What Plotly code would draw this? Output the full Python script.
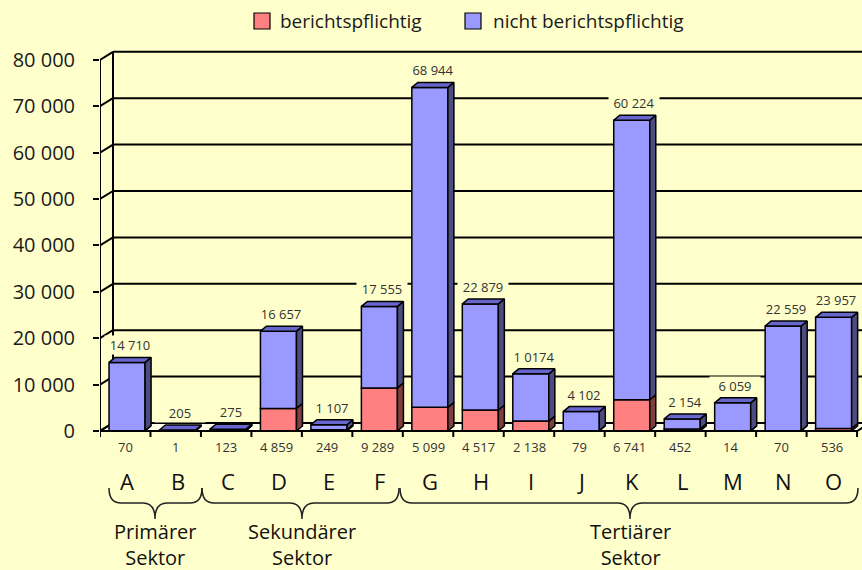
import plotly.graph_objects as go

# ---------------- data ----------------
categories = ["A", "B", "C", "D", "E", "F", "G", "H", "I", "J", "K", "L", "M", "N", "O"]
berichtspflichtig = [70, 1, 123, 4859, 249, 9289, 5099, 4517, 2138, 79, 6741, 452, 14, 70, 536]
nicht_berichtspflichtig = [14710, 205, 275, 16657, 1107, 17555, 68944, 22879, 10174, 4102,
                           60224, 2154, 6059, 22559, 23957]
nicht_labels = ["14 710", "205", "275", "16 657", "1 107", "17 555", "68 944", "22 879", "1 0174",
                "4 102", "60 224", "2 154", "6 059", "22 559", "23 957"]
bericht_labels = ["70", "1", "123", "4 859", "249", "9 289", "5 099", "4 517", "2 138", "79",
                  "6 741", "452", "14", "70", "536"]
y_ticks = [0, 10000, 20000, 30000, 40000, 50000, 60000, 70000, 80000]
y_ticktext = [f"{v:,}".replace(",", " ") for v in y_ticks]
sectors = [("Primärer", "Sektor", 0, 1), ("Sekundärer", "Sektor", 2, 5), ("Tertiärer", "Sektor", 6, 14)]
series_names = ["berichtspflichtig", "nicht berichtspflichtig"]

# ---------------- style ----------------
BG = "#FFFFCC"
FLOOR = "#FFFFE8"
RED, RED_SIDE = "#FF8080", "#803F3F"
BLUE, BLUE_SIDE, BLUE_TOP = "#9999FF", "#4C4C80", "#6666CC"
FONT = "Open Sans"

W, H = 862, 570
L, T, PW, PH = 100, 40, 762, 400
SLOT = 50.47          # px per category
YPX = 46.4 / 10000    # px per value unit
x_range = [-0.5, -0.5 + PW / SLOT]
y_bottom = -(440 - 431) / YPX
y_range = [y_bottom, y_bottom + PH / YPX]

# 3D offsets
wall_dx = 13 / SLOT
wall_dy = 8 / YPX
bar_dx = 6 / SLOT
bar_dy = 5 / YPX
bar_off = -0.321
bar_w = 0.714
tick_len = 6 / YPX


def pxx(p):
    return (p - L) / PW


def pyy(p):
    return (T + PH - p) / PH


idx = list(range(len(categories)))
totals = [a + b for a, b in zip(berichtspflichtig, nicht_berichtspflichtig)]

fig = go.Figure()
fig.add_trace(go.Bar(x=idx, y=berichtspflichtig, base=[0] * len(idx), width=bar_w, offset=bar_off,
                     marker=dict(color=RED, line=dict(color="black", width=1.5)),
                     name=series_names[0], showlegend=False))
fig.add_trace(go.Bar(x=idx, y=nicht_berichtspflichtig, base=berichtspflichtig, width=bar_w, offset=bar_off,
                     marker=dict(color=BLUE, line=dict(color="black", width=1.5)),
                     name=series_names[1], showlegend=False))


def side_poly(xr, y0, y1):
    return [xr, xr + bar_dx, xr + bar_dx, xr, xr, None], [y0, y0 + bar_dy, y1 + bar_dy, y1, y0, None]


# side faces
for seg_bottom, seg_top, col in [([0] * len(idx), berichtspflichtig, RED_SIDE),
                                 (berichtspflichtig, totals, BLUE_SIDE)]:
    xs, ys = [], []
    for i in idx:
        xr = i + bar_off + bar_w
        px_, py_ = side_poly(xr, seg_bottom[i], seg_top[i])
        xs += px_
        ys += py_
    fig.add_trace(go.Scatter(x=xs, y=ys, mode="lines", fill="toself", fillcolor=col,
                             line=dict(color="black", width=1.5), hoverinfo="skip", showlegend=False))

# top faces
xs, ys = [], []
for i in idx:
    xl = i + bar_off
    xr = xl + bar_w
    t = totals[i]
    xs += [xl, xl + bar_dx, xr + bar_dx, xr, xl, None]
    ys += [t, t + bar_dy, t + bar_dy, t, t, None]
fig.add_trace(go.Scatter(x=xs, y=ys, mode="lines", fill="toself", fillcolor=BLUE_TOP,
                         line=dict(color="black", width=1.5), hoverinfo="skip", showlegend=False))

shapes = []
n = len(categories)
x_left = -0.5
x_right_front = n - 0.5
# floor
shapes.append(dict(type="path", xref="x", yref="y", layer="below",
                   path=f"M{x_left},0 L{x_right_front},0 L{x_right_front + wall_dx},{wall_dy} "
                        f"L{x_left + wall_dx},{wall_dy} Z",
                   fillcolor=FLOOR, line=dict(color="black", width=2)))
# gridlines on back wall + diagonals
for v in y_ticks:
    shapes.append(dict(type="line", xref="x", yref="y", layer="below",
                       x0=x_left + wall_dx, x1=x_range[1] + 1, y0=v + wall_dy, y1=v + wall_dy,
                       line=dict(color="black", width=2)))
    shapes.append(dict(type="line", xref="x", yref="y", layer="below",
                       x0=x_left, x1=x_left + wall_dx, y0=v, y1=v + wall_dy,
                       line=dict(color="black", width=2)))
# back wall vertical
shapes.append(dict(type="line", xref="x", yref="y", layer="below",
                   x0=x_left + wall_dx, x1=x_left + wall_dx, y0=wall_dy, y1=y_ticks[-1] + wall_dy,
                   line=dict(color="black", width=2)))
# front y axis
shapes.append(dict(type="line", xref="x", yref="y",
                   x0=x_left, x1=x_left, y0=-tick_len, y1=y_ticks[-1],
                   line=dict(color="black", width=2)))
# x ticks
for k in range(n + 1):
    shapes.append(dict(type="line", xref="x", yref="y",
                       x0=k - 0.5, x1=k - 0.5, y0=0, y1=-tick_len,
                       line=dict(color="black", width=2)))
# front floor edge on top
shapes.append(dict(type="line", xref="x", yref="y",
                   x0=x_left, x1=x_right_front, y0=0, y1=0, line=dict(color="black", width=2)))

# braces
brace_px = {0: (109, 202, 155), 1: (202, 399, 302), 2: (400, 858, 630)}
yt, ym, yb = 488, 503, 519
for k, (x0, x1, xm) in brace_px.items():
    r = 12
    pts = (f"M{pxx(x0)},{pyy(yt)} Q{pxx(x0)},{pyy(ym)} {pxx(x0 + r)},{pyy(ym)} "
           f"L{pxx(xm - r)},{pyy(ym)} Q{pxx(xm)},{pyy(ym)} {pxx(xm)},{pyy(yb)} "
           f"Q{pxx(xm)},{pyy(ym)} {pxx(xm + r)},{pyy(ym)} "
           f"L{pxx(x1 - r)},{pyy(ym)} Q{pxx(x1)},{pyy(ym)} {pxx(x1)},{pyy(yt)}")
    shapes.append(dict(type="path", xref="paper", yref="paper", path=pts,
                       line=dict(color="#222222", width=1.5)))

# legend squares
for (x0, col) in [(254, RED), (465, BLUE)]:
    shapes.append(dict(type="rect", xref="paper", yref="paper",
                       x0=pxx(x0), x1=pxx(x0 + 16), y0=pyy(29), y1=pyy(13),
                       fillcolor=col, line=dict(color="black", width=1.2)))

annotations = []
# legend text
for (x0, name) in [(278, series_names[0]), (491, series_names[1])]:
    annotations.append(dict(xref="paper", yref="paper", x=pxx(x0), y=pyy(21), text=name,
                            showarrow=False, xanchor="left", yanchor="middle",
                            font=dict(family=FONT, size=19, color="#1a1a1a")))
# top labels
for i in idx:
    annotations.append(dict(xref="x", yref="y", x=i + 0.09, y=totals[i], text=nicht_labels[i],
                            showarrow=False, yanchor="bottom", yshift=7, bgcolor=BG, width=50,
                            borderpad=0,
                            font=dict(family=FONT, size=13, color="#333333")))
# bottom labels
for i in idx:
    annotations.append(dict(xref="x", yref="paper", x=i, y=pyy(447), text=bericht_labels[i],
                            showarrow=False, xanchor="center", yanchor="middle",
                            font=dict(family=FONT, size=13, color="#333333")))
# category letters
for i in idx:
    annotations.append(dict(xref="x", yref="paper", x=i + 0.04, y=pyy(481), text=categories[i],
                            showarrow=False, xanchor="center", yanchor="middle",
                            font=dict(family=FONT, size=22, color="#111111")))
# sector labels (two lines each)
for k, (l1, l2, a, b) in enumerate(sectors):
    xm = brace_px[k][2]
    annotations.append(dict(xref="paper", yref="paper", x=pxx(xm), y=pyy(544), text=l1 + "<br>" + l2,
                            showarrow=False, xanchor="center", yanchor="middle", align="center",
                            borderpad=0,
                            font=dict(family=FONT, size=20, color="#111111")))

fig.update_layout(
    width=W, height=H,
    margin=dict(l=L, r=W - L - PW, t=T, b=H - T - PH, pad=0),
    paper_bgcolor=BG, plot_bgcolor=BG,
    barmode="overlay",
    showlegend=False,
    shapes=shapes, annotations=annotations,
    xaxis=dict(range=x_range, showgrid=False, zeroline=False, showticklabels=False,
               showline=False, ticks="", fixedrange=True),
    yaxis=dict(range=y_range, showgrid=False, zeroline=False, showline=False,
               tickvals=y_ticks, ticktext=y_ticktext, ticks="outside", ticklen=6, tickwidth=2,
               tickcolor="black", ticklabelstandoff=14, fixedrange=True,
               tickfont=dict(family=FONT, size=20, color="#1a1a1a")),
    font=dict(family=FONT),
)

fig.write_html("out.html", config={"displayModeBar": False},
               post_script="document.body.style.margin='0';document.body.style.background='" + BG + "';")
